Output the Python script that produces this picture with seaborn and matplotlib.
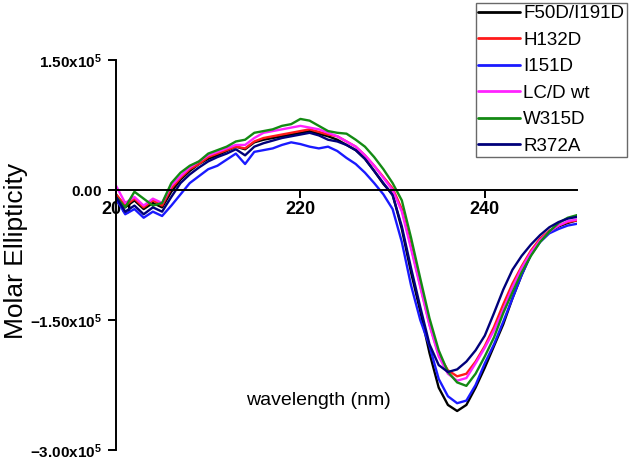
import matplotlib
matplotlib.use('Agg')
import matplotlib.pyplot as plt
import numpy as np
import pandas as pd
import seaborn as sns

# wavelength grid (nm) and molar ellipticity, in units of 1e5
wavelength = list(range(200, 251))
scale = 1e5

f50d_i191d = [-0.05, -0.20, -0.12, -0.22, -0.15, -0.20, -0.02, 0.12, 0.22, 0.30,
              0.36, 0.40, 0.45, 0.50, 0.47, 0.55, 0.58, 0.60, 0.62, 0.64,
              0.66, 0.68, 0.65, 0.62, 0.58, 0.52, 0.46, 0.36, 0.22, 0.07,
              -0.05, -0.45, -0.95, -1.40, -1.88, -2.28, -2.48, -2.55, -2.48, -2.28,
              -2.05, -1.80, -1.55, -1.25, -0.98, -0.74, -0.58, -0.48, -0.42, -0.38, -0.35]
h132d = [-0.05, -0.18, -0.10, -0.20, -0.12, -0.18, 0.02, 0.14, 0.24, 0.30,
         0.38, 0.42, 0.46, 0.50, 0.48, 0.56, 0.60, 0.62, 0.64, 0.66,
         0.68, 0.70, 0.67, 0.64, 0.62, 0.56, 0.50, 0.40, 0.28, 0.15,
         0.02, -0.22, -0.65, -1.10, -1.55, -1.90, -2.08, -2.15, -2.12, -1.98,
         -1.80, -1.58, -1.32, -1.08, -0.88, -0.70, -0.56, -0.47, -0.41, -0.37, -0.35]
i151d = [-0.10, -0.28, -0.22, -0.32, -0.25, -0.30, -0.18, -0.05, 0.08, 0.16,
         0.24, 0.28, 0.35, 0.42, 0.30, 0.44, 0.46, 0.48, 0.52, 0.55,
         0.53, 0.50, 0.48, 0.50, 0.45, 0.37, 0.30, 0.20, 0.08, -0.05,
         -0.22, -0.60, -1.10, -1.50, -1.80, -2.18, -2.38, -2.46, -2.43, -2.25,
         -2.00, -1.78, -1.52, -1.25, -0.98, -0.75, -0.60, -0.50, -0.45, -0.41, -0.39]
lcd_wt = [0.05, -0.15, -0.08, -0.18, -0.10, -0.15, 0.05, 0.16, 0.26, 0.33,
          0.40, 0.44, 0.48, 0.52, 0.52, 0.60, 0.66, 0.68, 0.70, 0.72,
          0.74, 0.72, 0.70, 0.66, 0.62, 0.56, 0.50, 0.40, 0.28, 0.14,
          0.00, -0.25, -0.68, -1.12, -1.56, -1.92, -2.12, -2.20, -2.17, -2.00,
          -1.82, -1.62, -1.38, -1.12, -0.90, -0.72, -0.58, -0.48, -0.41, -0.36, -0.34]
w315d = [-0.08, -0.20, -0.02, -0.10, -0.18, -0.15, 0.08, 0.20, 0.28, 0.33,
         0.42, 0.46, 0.50, 0.56, 0.58, 0.66, 0.68, 0.70, 0.74, 0.76,
         0.82, 0.80, 0.74, 0.68, 0.66, 0.65, 0.58, 0.50, 0.38, 0.24,
         0.08, -0.12, -0.55, -1.02, -1.48, -1.85, -2.10, -2.22, -2.26, -2.12,
         -1.92, -1.70, -1.42, -1.18, -0.95, -0.76, -0.60, -0.48, -0.38, -0.32, -0.29]
r372a = [-0.08, -0.25, -0.18, -0.28, -0.20, -0.25, -0.08, 0.08, 0.18, 0.26,
         0.33, 0.38, 0.42, 0.47, 0.40, 0.50, 0.54, 0.57, 0.60, 0.62,
         0.64, 0.66, 0.63, 0.58, 0.56, 0.52, 0.46, 0.36, 0.22, 0.08,
         -0.06, -0.42, -0.90, -1.35, -1.78, -2.02, -2.10, -2.07, -1.98, -1.85,
         -1.68, -1.42, -1.15, -0.92, -0.76, -0.63, -0.52, -0.43, -0.37, -0.33, -0.31]

names = ['F50D/I191D', 'H132D', 'I151D', 'LC/D wt', 'W315D', 'R372A']
colors = ['#000000', '#ff1a1a', '#1a1aff', '#ff22ff', '#138a13', '#00007a']
series = [f50d_i191d, h132d, i151d, lcd_wt, w315d, r372a]

rows = []
for name, vals in zip(names, series):
    for wl, v in zip(wavelength, vals):
        rows.append({'wavelength': wl, 'ellipticity': v * scale, 'mutant': name})
df = pd.DataFrame(rows)

sns.set_style('ticks')
plt.rcParams['font.family'] = ['Liberation Sans', 'DejaVu Sans']
plt.rcParams['text.color'] = 'black'
plt.rcParams['axes.labelcolor'] = 'black'
plt.rcParams['mathtext.fontset'] = 'custom'
plt.rcParams['mathtext.rm'] = 'Liberation Sans'
plt.rcParams['mathtext.bf'] = 'Liberation Sans:bold'

fig = plt.figure(figsize=(6.33, 4.58), dpi=100)
ax = fig.add_axes([116 / 633, 1 - 450 / 458, 461 / 633, 390 / 458])

sns.lineplot(data=df, x='wavelength', y='ellipticity', hue='mutant',
             palette=dict(zip(names, colors)), hue_order=names,
             linewidth=1.7, ax=ax, legend=False)

ax.set_xlim(200, 250)
ax.set_ylim(-3e5, 1.5e5)
ax.set_axisbelow(True)

ax.spines['top'].set_visible(False)
ax.spines['right'].set_visible(False)
ax.spines['bottom'].set_position(('data', 0))
for s in ['left', 'bottom']:
    ax.spines[s].set_linewidth(1.4)
    ax.spines[s].set_color('black')

ax.set_xticks([200, 220, 240])
ax.set_xticklabels(['200', '220', '240'], fontsize=13, fontweight='bold')
ax.set_yticks([1.5e5, 0, -1.5e5, -3e5])
ax.set_yticklabels([r'$\mathbf{1.50x10^{5}}$', r'$\mathbf{0.00}$',
                    r'$\mathbf{-1.50x10^{5}}$', r'$\mathbf{-3.00x10^{5}}$'], fontsize=11)
ax.tick_params(axis='both', direction='out', length=6, width=1.4, color='black',
               labelcolor='black')
ax.tick_params(axis='x', pad=2)
ax.tick_params(axis='y', pad=4)

ax.set_xlabel('wavelength (nm)', fontsize=14, color='black')
ax.xaxis.set_label_coords(0.438, 0.149)
ax.set_ylabel('Molar Ellipticity', fontsize=19, color='black')
ax.yaxis.set_label_coords(-0.19, 0.51)

handles = [plt.Line2D([], [], color=c, lw=2) for c in colors]
leg = fig.legend(handles, names, loc='lower left',
                 bbox_to_anchor=(476 / 633, 1 - 157 / 458),
                 fontsize=13.5, frameon=True, fancybox=False,
                 handlelength=2.2, handletextpad=0.2, labelspacing=0.5,
                 borderpad=0.12, borderaxespad=0.0)
leg.get_frame().set_edgecolor('#444444')
leg.get_frame().set_linewidth(1.0)
for t in leg.get_texts():
    t.set_color('black')

fig.savefig('out.png', dpi=100)
